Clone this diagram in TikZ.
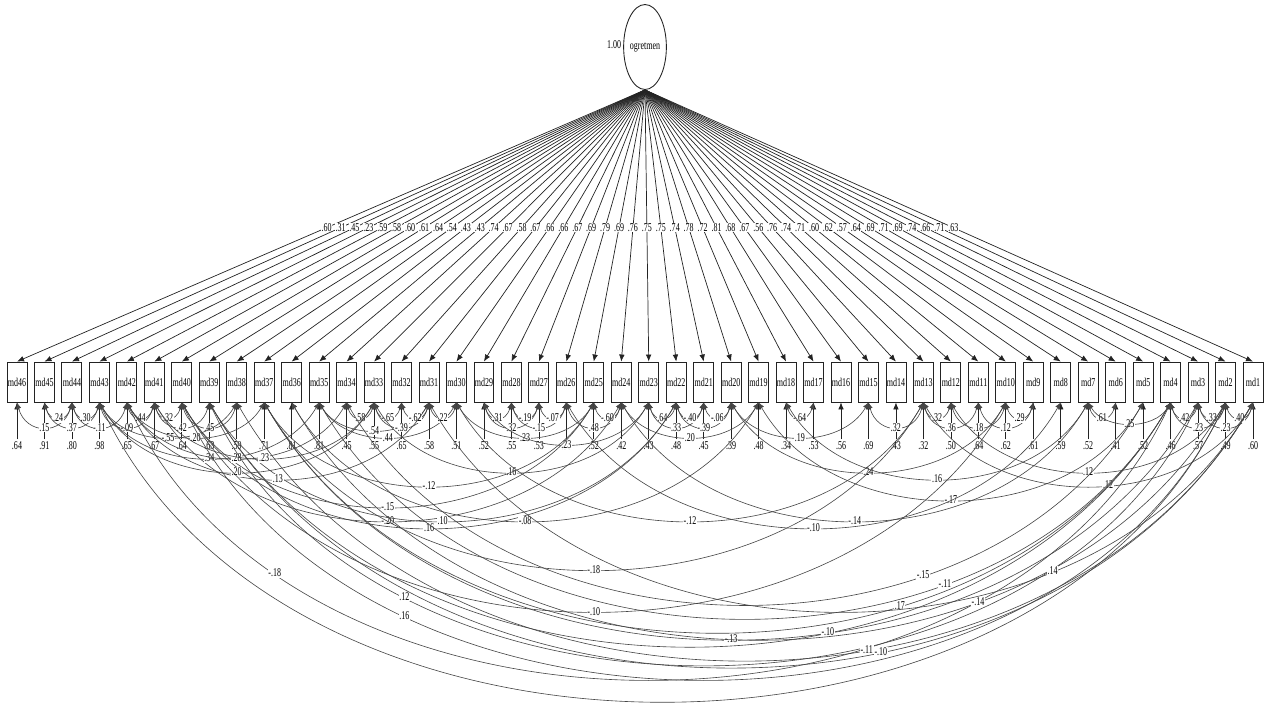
\documentclass[tikz,border=0pt]{standalone}
\usepackage{fontspec}
\setmainfont{Liberation Serif}
\usepackage{graphicx}
\usetikzlibrary{arrows.meta,shapes.geometric}
\definecolor{figline}{RGB}{35,35,35}
\definecolor{figarc}{RGB}{70,70,70}
\newcommand{\sq}[1]{\scalebox{0.67}[1]{#1}}
\tikzset{
  mvar/.style  ={draw=figline, line width=0.5pt, minimum width=0.4cm, minimum height=0.8cm, inner sep=0pt, font=\fontsize{6.8}{7}\selectfont},
  lvar/.style  ={ellipse, draw=figline, line width=0.5pt, minimum width=0.78cm, minimum height=1.7cm, inner sep=0pt, font=\fontsize{6.8}{7}\selectfont},
  load/.style  ={draw=figline, line width=0.4pt, -{Latex[length=4pt,width=3.2pt]}},
  lab/.style   ={font=\fontsize{6.8}{7}\selectfont, inner sep=0.4pt, fill=white},
  errlab/.style={font=\fontsize{6.8}{7}\selectfont, inner sep=1pt},
  cov/.style   ={draw=figarc, line width=0.35pt, {Latex[length=3.5pt,width=3pt]}-{Latex[length=3.5pt,width=3pt]}},
}

\begin{document}
\begin{tikzpicture}[x=0.02cm, y=-0.02cm]
  \useasboundingbox (0,0) rectangle (1275,708);
  % latent factor
  \node[lvar] (F) at (645,47) {\sq{ogretmen}};
  \node[errlab] (Fv) at (614,45) {\sq{1.00}};
  % observed items
  \foreach \i in {1,...,46}
    \node[mvar] (md\i) at ({17+(46-\i)*27.4667},382) {\sq{md\i}};
  % loadings
  \foreach \i/\v in {46/.60,45/.31,44/.45,43/.23,42/.59,41/.58,40/.60,39/.61,38/.64,37/.54,
      36/.43,35/.43,34/.74,33/.67,32/.58,31/.67,30/.66,29/.66,28/.67,27/.69,26/.79,25/.69,
      24/.76,23/.75,22/.75,21/.74,20/.78,19/.72,18/.81,17/.68,16/.67,15/.56,14/.76,13/.74,
      12/.71,11/.60,10/.62,9/.57,8/.64,7/.69,6/.71,5/.69,4/.74,3/.66,2/.71,1/.63}
    \draw[load] (F.south) -- node[lab,pos=0.507] {\sq{\v}} (md\i.north);
  % error variances
  \foreach \i/\v in {46/.64,45/.91,44/.80,43/.98,42/.65,41/.67,40/.64,39/.63,38/.59,37/.71,
      36/.81,35/.81,34/.45,33/.55,32/.65,31/.58,30/.51,29/.52,28/.55,27/.53,26/.38,25/.52,
      24/.42,23/.43,22/.48,21/.45,20/.39,19/.48,18/.34,17/.53,16/.56,15/.69,14/.43,13/.32,
      12/.50,11/.64,10/.62,9/.61,8/.59,7/.52,6/.41,5/.52,4/.46,3/.57,2/.49,1/.60}
  {
    \path (md\i.south) ++(0,43) node[errlab] (e\i) {\sq{\v}};
    \draw[load] (e\i.north) -- (md\i.south);
  }
  % error covariances, short
  \foreach \a/\b/\ang/\lo/\p/\lab in {46/44/75/1.6/.5/.15, 45/44/75/2/.5/.24, 45/43/75/1.6/.5/.37,
      44/43/75/2/.5/.30, 44/42/75/1.6/.5/-.11, 43/41/75/1.6/.5/-.09, 42/41/75/2/.5/.44,
      41/40/75/2/.5/.32, 41/39/75/1.6/.5/.42, 40/38/75/1.6/.5/.45, 43/38/60/1/.5/-.55,
      42/37/60/1/.5/.20, 34/33/75/2/.5/.58, 35/31/60/1/.5/.54, 33/32/75/2/.5/-.65,
      35/30/60/1/.5/.44, 33/31/75/1.6/.5/-.39, 32/31/75/2/.5/-.62, 31/30/75/2/.5/.22,
      29/28/75/2/.5/.31, 29/27/75/1.6/.5/.32, 28/27/75/2/.5/-.19, 30/25/60/1/.5/.23,
      28/26/75/1.6/.5/-.15, 27/26/75/2/.5/-.07, 29/23/60/1/.5/.23, 26/24/75/1.6/.5/.48,
      25/24/75/2/.5/-.60, 23/22/75/2/.5/.64, 23/21/75/1.6/.5/.33, 22/21/75/2/.5/-.40,
      22/20/75/1.6/.5/-.39, 21/20/75/2/.5/-.06, 24/19/60/1/.5/.20, 20/15/60/1/.5/.19,
      18/17/75/2/.5/-.64, 15/13/75/1.6/.5/.32, 13/12/75/2/.5/.32, 13/11/75/1.6/.5/.36,
      12/10/75/1.6/.5/.18, 11/9/75/1.6/.5/.12, 10/9/75/2/.5/.29, 7/6/75/2/.5/.61,
      7/4/60/1/.5/.25, 4/3/75/2/.5/.42, 4/2/75/1.6/.5/.23, 3/2/75/2/.5/.33,
      3/1/75/1.6/.5/.23, 2/1/75/2/.5/.40}
    \draw[cov] (md\a.south) to[bend right=\ang, looseness=\lo]
      node[lab,pos=\p] {\sq{\lab}} (md\b.south);
  % error covariances, long
  \foreach \a/\b/\ang/\p/\lab in {33/23/60/.5/.16, 37/25/60/.5/-.12, 40/25/60/.5/-.15,
      41/24/60/.5/-.20, 40/22/60/.5/.16, 39/22/60/.5/.10, 36/19/60/.5/-.08, 42/31/60/.5/.13,
      43/35/60/.5/.34, 42/34/60/.5/.28, 43/33/60/.5/.20, 41/33/60/.5/.23, 20/10/60/.5/.24,
      18/7/60/.5/.16, 19/5/60/.5/-.17, 12/2/60/.5/.12, 13/1/60/.55/.12, 30/13/60/.5/-.12,
      26/8/60/.5/-.10, 24/7/60/.5/-.14, 37/13/60/.5/-.18, 40/10/60/.5/-.10,
      42/4/65/.19/-.18, 39/3/65/.245/.12, 40/2/65/.26/.16, 37/3/60/.5/-.13,
      38/1/60/.6/-.11, 39/1/60/.62/-.10, 39/4/60/.62/-.10, 37/4/60/.67/.17,
      36/2/60/.7/-.14, 34/5/60/.69/-.15, 35/4/60/.7/-.11, 31/1/60/.72/.14}
    \draw[cov] (md\a.south) to[bend right=\ang]
      node[lab,pos=\p] {\sq{\lab}} (md\b.south);
  \draw[cov] (md43.south) to[bend right=65] (md2.south);
\end{tikzpicture}
\end{document}
